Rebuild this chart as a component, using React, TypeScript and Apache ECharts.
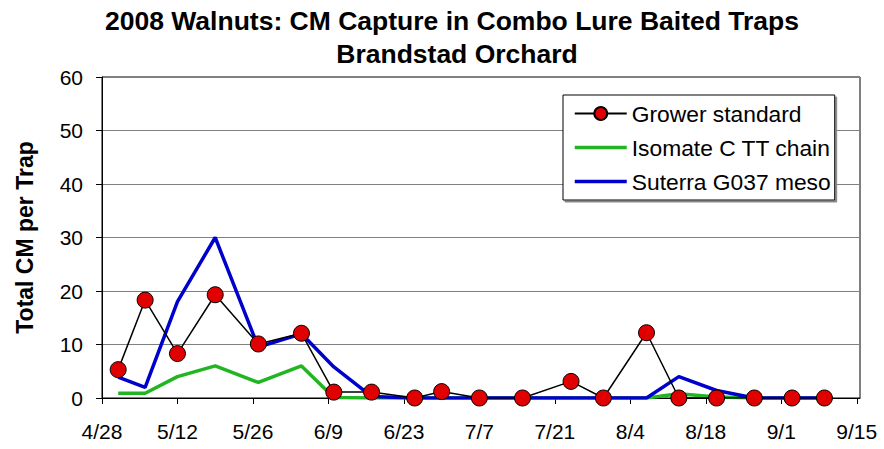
import React, { useEffect, useRef } from "react";
import * as echarts from "echarts";

// Sample dates (2008) and trap captures
const sampleDates = [
  "5/1", "5/6", "5/12", "5/19", "5/27", "6/4", "6/10", "6/17", "6/25", "6/30",
  "7/7", "7/15", "7/24", "7/30", "8/7", "8/13", "8/20", "8/27", "9/3", "9/9",
];
const growerStandard = [5.3, 18.3, 8.3, 19.3, 10.1, 12.1, 1.1, 1.1, 0, 1.2, 0, 0, 3.1, 0, 12.2, 0, 0, 0, 0, 0];
const isomateChain = [0.9, 0.9, 4.0, 6.0, 2.9, 6.0, 0.1, 0, 0, 0, 0, 0, 0, 0, 0, 0.8, 0.2, 0, 0, 0];
const suterraMeso = [3.9, 2.0, 18.0, 30.0, 9.5, 12.0, 5.8, 0.3, 0, 0, 0, 0, 0, 0, 0, 4.0, 1.4, 0, 0, 0];
const xTickLabels = ["4/28", "5/12", "5/26", "6/9", "6/23", "7/7", "7/21", "8/4", "8/18", "9/1", "9/15"];
const seriesNames = ["Grower standard", "Isomate C TT chain", "Suterra G037 meso"];
const titleLines = ["2008 Walnuts: CM Capture in Combo Lure Baited Traps", "Brandstad Orchard"];

const FONT = '"Liberation Sans", Arial, sans-serif';
const DAY = 86400000;
const START = Date.UTC(2008, 3, 28);
const toDay = (s: string) => {
  const [m, d] = s.split("/").map(Number);
  return Math.round((Date.UTC(2008, m - 1, d) - START) / DAY);
};
const tickDays = xTickLabels.map(toDay);
const sampleDays = sampleDates.map(toDay);
const pairs = (vals: number[]) => sampleDays.map((d, i) => [d, vals[i]]);

export default function App() {
  const ref = useRef<HTMLDivElement>(null);
  useEffect(() => {
    if (!ref.current) return;
    const chart = echarts.init(ref.current, null, { renderer: "svg" });
    chart.setOption({
      animation: false,
      backgroundColor: "#fff",
      grid: {
        left: 102,
        right: 24,
        top: 77,
        bottom: 51,
        show: true,
        borderColor: "#000",
        borderWidth: 1,
        backgroundColor: "transparent",
      },
      graphic: [
        {
          type: "text",
          x: 452,
          y: 21,
          style: {
            text: titleLines[0],
            font: `bold 26.5px ${FONT}`,
            fill: "#000",
            textAlign: "center",
            textVerticalAlign: "middle",
          },
        },
        {
          type: "text",
          x: 457,
          y: 54,
          style: {
            text: titleLines[1],
            font: `bold 26.5px ${FONT}`,
            fill: "#000",
            textAlign: "center",
            textVerticalAlign: "middle",
          },
        },
      ],
      legend: {
        orient: "vertical",
        left: 563,
        top: 95,
        data: [
          { name: seriesNames[0] },
          { name: seriesNames[1], itemStyle: { opacity: 0 }, lineStyle: { width: 3.5, color: "#22b522" } },
          { name: seriesNames[2], itemStyle: { opacity: 0 }, lineStyle: { width: 3.5, color: "#0000cc" } },
        ],
        itemWidth: 52,
        itemHeight: 16,
        itemGap: 11,
        padding: [7, 4, 7, 10],
        backgroundColor: "#fff",
        borderColor: "#000",
        borderWidth: 1,
        shadowColor: "#888",
        shadowOffsetX: 2,
        shadowOffsetY: 2,
        shadowBlur: 1,
        selectedMode: false,
        textStyle: { fontFamily: FONT, fontSize: 22.8, color: "#000", lineHeight: 22 },
      },
      xAxis: {
        type: "value",
        min: 0,
        max: 140.6,
        axisLine: { show: true, lineStyle: { color: "#000", width: 1 } },
        axisTick: { show: true, customValues: tickDays, length: 6, lineStyle: { color: "#000" } },
        axisLabel: {
          customValues: tickDays,
          formatter: (v: number) => {
            const i = tickDays.indexOf(Math.round(v));
            return i >= 0 ? xTickLabels[i] : "";
          },
          fontFamily: FONT,
          fontSize: 21,
          color: "#000",
          margin: 23,
        },
        splitLine: { show: false },
      },
      yAxis: {
        type: "value",
        min: 0,
        max: 60,
        interval: 10,
        name: "Total CM per Trap",
        nameLocation: "middle",
        nameGap: 66,
        nameTextStyle: { fontFamily: FONT, fontSize: 23, fontWeight: "bold", color: "#000" },
        axisLine: { show: true, lineStyle: { color: "#000", width: 1 } },
        axisTick: { show: true, length: 6, lineStyle: { color: "#000" } },
        axisLabel: { fontFamily: FONT, fontSize: 21, color: "#000", margin: 19 },
        splitLine: { show: true, lineStyle: { color: "#808080", width: 1 } },
      },
      series: [
        {
          name: seriesNames[1],
          type: "line",
          data: pairs(isomateChain),
          symbol: "none",
          lineStyle: { color: "#22b522", width: 3.5 },
          itemStyle: { color: "#22b522" },
          z: 2,
        },
        {
          name: seriesNames[2],
          type: "line",
          data: pairs(suterraMeso),
          symbol: "none",
          lineStyle: { color: "#0000cc", width: 3.5 },
          itemStyle: { color: "#0000cc" },
          z: 3,
        },
        {
          name: seriesNames[0],
          type: "line",
          data: pairs(growerStandard),
          symbol: "circle",
          symbolSize: 16,
          lineStyle: { color: "#000", width: 1.5 },
          itemStyle: { color: "#e00000", borderColor: "#000", borderWidth: 1 },
          z: 4,
        },
      ],
    });
    return () => chart.dispose();
  }, []);
  return (
    <div
      ref={ref}
      style={{ position: "absolute", left: 0, top: 0, width: 884, height: 449 }}
    />
  );
}
